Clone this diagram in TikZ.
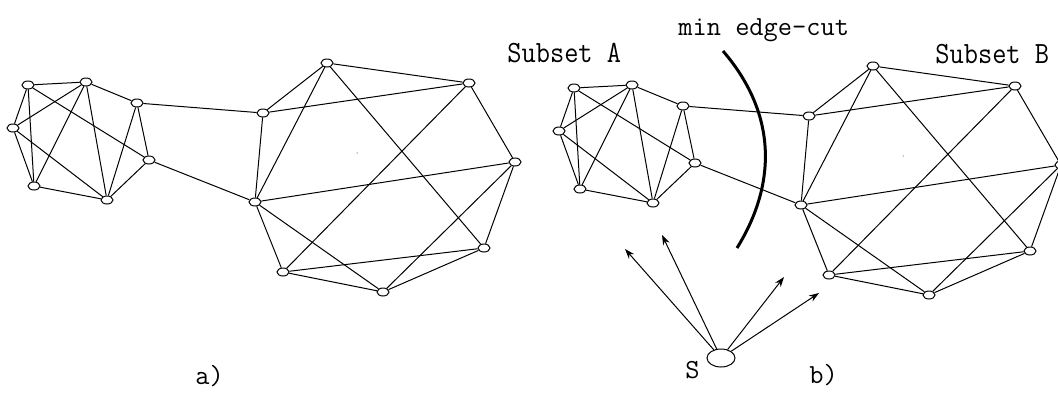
\documentclass[tikz,border=0pt]{standalone}
\usepackage{fontspec}
\usetikzlibrary{shapes.geometric,arrows.meta}

\begin{document}
\begin{tikzpicture}[
    x=0.5pt, y=-0.5pt,
    vertex/.style={ellipse, draw, line width=0.5pt, minimum width=6pt, minimum height=4pt, inner sep=0pt},
    source/.style={ellipse, draw, line width=0.5pt, minimum width=14pt, minimum height=9pt, inner sep=0pt},
    link/.style={line width=0.5pt},
    arrow/.style={-{Stealth[length=5pt,width=3.5pt]}, line width=0.5pt},
    cut/.style={line width=1.5pt},
    label/.style={font=\ttfamily\fontsize{13.8}{14}\selectfont, anchor=base west, inner sep=0pt},
    tall/.style={font=\ttfamily\fontsize{13.8}{14}\selectfont, anchor=base west, inner sep=0pt, yscale=1.12}
]
\path[use as bounding box, clip] (0,0) rectangle (1058,392);

% Graph a) : small cluster
\node[vertex] (a1) at (28,85) {};
\node[vertex] (a2) at (86,82) {};
\node[vertex] (a3) at (13,128) {};
\node[vertex] (a4) at (34,186) {};
\node[vertex] (a5) at (107,200) {};
\node[vertex] (a6) at (137,103) {};
\node[vertex] (a7) at (149,160) {};

% Graph a) : large cluster
\node[vertex] (a8) at (327,63) {};
\node[vertex] (a9) at (469,83) {};
\node[vertex] (a10) at (263,113) {};
\node[vertex] (a11) at (515,162) {};
\node[vertex] (a12) at (255,202) {};
\node[vertex] (a13) at (484,248) {};
\node[vertex] (a14) at (283,272) {};
\node[vertex] (a15) at (383,292) {};
\fill (357,153) circle (0.5);

% Edges a)
\draw[link] (a1) -- (a2);
\draw[link] (a1) -- (a3);
\draw[link] (a1) -- (a4);
\draw[link] (a1) -- (a7);
\draw[link] (a2) -- (a3);
\draw[link] (a2) -- (a4);
\draw[link] (a2) -- (a5);
\draw[link] (a2) -- (a6);
\draw[link] (a3) -- (a4);
\draw[link] (a3) -- (a5);
\draw[link] (a4) -- (a5);
\draw[link] (a5) -- (a6);
\draw[link] (a5) -- (a7);
\draw[link] (a6) -- (a7);
\draw[link] (a6) -- (a10);
\draw[link] (a7) -- (a12);
\draw[link] (a8) -- (a9);
\draw[link] (a8) -- (a10);
\draw[link] (a8) -- (a12);
\draw[link] (a8) -- (a13);
\draw[link] (a10) -- (a9);
\draw[link] (a10) -- (a12);
\draw[link] (a9) -- (a11);
\draw[link] (a9) -- (a14);
\draw[link] (a12) -- (a11);
\draw[link] (a12) -- (a14);
\draw[link] (a12) -- (a15);
\draw[link] (a11) -- (a13);
\draw[link] (a11) -- (a15);
\draw[link] (a14) -- (a13);
\draw[link] (a14) -- (a15);
\draw[link] (a15) -- (a13);

\begin{scope}[shift={(546,3)}]
% Graph b) : small cluster
\node[vertex] (b1) at (28,85) {};
\node[vertex] (b2) at (86,82) {};
\node[vertex] (b3) at (13,128) {};
\node[vertex] (b4) at (34,186) {};
\node[vertex] (b5) at (107,200) {};
\node[vertex] (b6) at (137,103) {};
\node[vertex] (b7) at (149,160) {};

% Graph b) : large cluster
\node[vertex] (b8) at (327,63) {};
\node[vertex] (b9) at (469,83) {};
\node[vertex] (b10) at (263,113) {};
\node[vertex] (b11) at (515,162) {};
\node[vertex] (b12) at (255,202) {};
\node[vertex] (b13) at (484,248) {};
\node[vertex] (b14) at (283,272) {};
\node[vertex] (b15) at (383,292) {};
\fill (357,153) circle (0.5);
\end{scope}

% Edges b)
\draw[link] (b1) -- (b2);
\draw[link] (b1) -- (b3);
\draw[link] (b1) -- (b4);
\draw[link] (b1) -- (b7);
\draw[link] (b2) -- (b3);
\draw[link] (b2) -- (b4);
\draw[link] (b2) -- (b5);
\draw[link] (b2) -- (b6);
\draw[link] (b3) -- (b4);
\draw[link] (b3) -- (b5);
\draw[link] (b4) -- (b5);
\draw[link] (b5) -- (b6);
\draw[link] (b5) -- (b7);
\draw[link] (b6) -- (b7);
\draw[link] (b6) -- (b10);
\draw[link] (b7) -- (b12);
\draw[link] (b8) -- (b9);
\draw[link] (b8) -- (b10);
\draw[link] (b8) -- (b12);
\draw[link] (b8) -- (b13);
\draw[link] (b10) -- (b9);
\draw[link] (b10) -- (b12);
\draw[link] (b9) -- (b11);
\draw[link] (b9) -- (b14);
\draw[link] (b12) -- (b11);
\draw[link] (b12) -- (b14);
\draw[link] (b12) -- (b15);
\draw[link] (b11) -- (b13);
\draw[link] (b11) -- (b15);
\draw[link] (b14) -- (b13);
\draw[link] (b14) -- (b15);
\draw[link] (b15) -- (b13);

% Min cut
\draw[cut] (723,51) .. controls (778,115) and (776,185) .. (737,248);

% Source and its arrows
\node[source] (s) at (721,358) {};
\coordinate (t1) at (625,249);
\coordinate (t2) at (662,235);
\coordinate (t3) at (784,277);
\coordinate (t4) at (819,293);
\draw[arrow] (s) -- (t1);
\draw[arrow] (s) -- (t2);
\draw[arrow] (s) -- (t3);
\draw[arrow] (s) -- (t4);

% Labels
\node[tall] (subA) at (507,62) {Subset A};
\node[tall] (subB) at (935,63) {Subset B};
\node[label] (mincut) at (678,35) {min edge-cut};
\node[label] (slbl) at (685,378) {S};
\node[label] (alb) at (195,384) {a)};
\node[label] (blb) at (809,383) {b)};

\end{tikzpicture}
\end{document}
